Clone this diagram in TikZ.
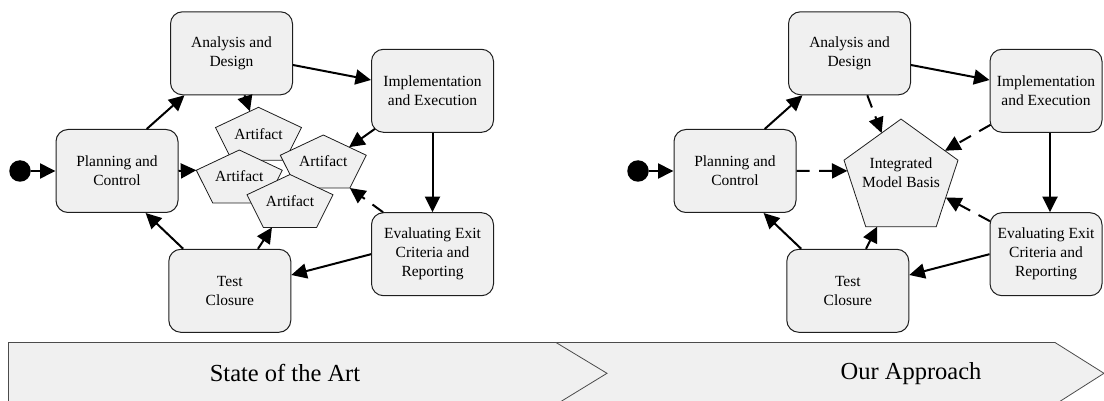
\documentclass[tikz,border=0pt]{standalone}
\usepackage{fontspec}
\setmainfont{Liberation Serif}
\usetikzlibrary{arrows.meta,calc}

\definecolor{panel}{RGB}{240,240,240}
\definecolor{edge}{RGB}{30,30,30}

\tikzset{
  stage/.style={draw=edge, line width=1pt, fill=panel, rounded corners=12pt,
    minimum width=122pt, minimum height=83pt, inner sep=0pt, align=center,
    font=\fontsize{15.5}{19}\selectfont},
  narrowstage/.style={stage, minimum width=112pt},
  pentshape/.style={draw=edge, line width=0.8pt, fill=panel, line join=miter},
  penttext/.style={inner sep=0pt, align=center, font=\fontsize{15.5}{19}\selectfont},
  startdot/.style={circle, fill=black, minimum size=21.5pt, inner sep=0pt},
  flow/.style={line width=2pt, -{Triangle[length=15.5pt,width=15pt]}},
  feed/.style={flow, dash pattern=on 13pt off 9.5pt},
  banner/.style={draw=edge!80, line width=0.8pt, fill=panel},
  bannertext/.style={font=\fontsize{24.5}{28}\selectfont, inner sep=0pt}
}

% flattened pentagon: name, centre x, centre y, width, height, text
\newcommand\pentagonnode[6]{%
  \begin{scope}[shift={(#2,#3)}]
    \coordinate (#1-t)  at (0,{-#5/2});
    \coordinate (#1-r)  at ({#4/2},{-#5/2+0.382*#5});
    \coordinate (#1-br) at ({0.309*#4},{#5/2});
    \coordinate (#1-bl) at ({-0.309*#4},{#5/2});
    \coordinate (#1-l)  at ({-#4/2},{-#5/2+0.382*#5});
    \path[pentshape] (#1-t) -- (#1-r) -- (#1-br) -- (#1-bl) -- (#1-l) -- cycle;
    \node[penttext] (#1) at (0,0) {#6};
  \end{scope}}

\begin{document}
\begin{tikzpicture}[x=1pt,y=-1pt]
\useasboundingbox (0,0) rectangle (1104,401);
\clip (0,0) rectangle (1104,401);

% phase banners along the bottom
\path[banner] (540,342.5) -- (1055,342.5) -- (1104,373.3) -- (1055,404.5)
  -- (540,404.5) -- (591,373.3) -- cycle;
\path[banner] (8.5,342.5) -- (556,342.5) -- (607,373.3) -- (556,404.5)
  -- (8.5,404.5) -- cycle;
\node[bannertext] (sota) at (285,373.3) {State of the Art};
\node[bannertext] (ours) at (911,373.3) {Our Approach};

% ---------- conventional process with separate artifacts ----------
\node[startdot] (s1) at (20,171) {};
\node[stage] (P1)  at (117,171)     {Planning and\\Control};
\node[stage] (An1) at (231.5,53.3)  {Analysis and\\Design};
\node[stage] (I1)  at (432.5,90.8)  {Implementation\\and Execution};
\node[stage] (E1)  at (432.5,254.2) {Evaluating Exit\\Criteria and\\Reporting};
\node[stage] (T1)  at (229.8,290.8) {Test\\Closure};

\pentagonnode{A1}{258.5}{133.8}{86}{53}{Artifact}
\pentagonnode{A2}{239.3}{176.5}{86}{53}{Artifact}
\pentagonnode{A3}{323.3}{161.5}{86}{53}{Artifact}
\pentagonnode{A4}{290}{201}{86}{53}{Artifact}

\draw[flow] (s1) -- (P1);
\draw[flow] ($(P1.north)+(29.7,0)$) -- ($(An1.south)+(-47,0)$);
\draw[flow] ($(An1.east)+(0,11.7)$) -- ($(I1.west)+(0,-10.8)$);
\draw[flow] (I1) -- (E1);
\draw[flow] (E1.west) -- ($(T1.east)+(0,-15.8)$);
\draw[flow] ($(T1.north)+(-46.6,0)$) -- ($(P1.south)+(28.6,0)$);
\draw[flow] ($(T1.north)+(28.2,0)$) -- ($(A4-bl)!0.16!(A4-br)$);
\draw[flow] (P1.east) -- (A2-l);
\draw[flow] ($(An1.south)+(13,0)$) -- ($(A1-t)!0.2!(A1-l)$);
\draw[flow] ($(I1.south west)+(4,-4)$) -- ($(A3-t)!0.6!(A3-r)$);
\draw[feed] ($(E1.north west)+(12,0)$) -- (A3-br);

% ---------- process around one integrated model ----------
\node[startdot] (s2) at (638,171) {};
\node[stage] (P2)  at (735,171)     {Planning and\\Control};
\node[stage] (An2) at (849.5,53.3)  {Analysis and\\Design};
\node[narrowstage] (I2) at (1046,90.8)  {Implementation\\and Execution};
\node[narrowstage] (E2) at (1046,254.2) {Evaluating Exit\\Criteria and\\Reporting};
\node[stage] (T2)  at (847.8,290.8) {Test\\Closure};

\pentagonnode{M}{901}{172.9}{114}{107.7}{Integrated\\Model Basis}

\draw[flow] (s2) -- (P2);
\draw[flow] ($(P2.north)+(29.7,0)$) -- ($(An2.south)+(-47,0)$);
\draw[flow] ($(An2.east)+(0,11.7)$) -- ($(I2.west)+(0,-10.8)$);
\draw[flow] ($(I2.south)+(4,0)$) -- ($(E2.north)+(4,0)$);
\draw[flow] (E2.west) -- ($(T2.east)+(0,-15.8)$);
\draw[flow] ($(T2.north)+(-46.6,0)$) -- ($(P2.south)+(28.6,0)$);
\draw[flow] ($(T2.north)+(18.2,0)$) -- ($(M-bl)!0.16!(M-br)$);
\draw[feed] (P2.east) -- ($(M-l)!0.16!(M-bl)$);
\draw[feed] ($(An2.south)+(17.8,0)$) -- ($(M-t)!0.34!(M-l)$);
\draw[feed] ($(I2.south west)+(1,-8)$) -- ($(M-t)!0.77!(M-r)$);
\draw[feed] ($(E2.north west)+(0.5,9)$) -- ($(M-r)!0.56!(M-br)$);
\end{tikzpicture}
\end{document}
